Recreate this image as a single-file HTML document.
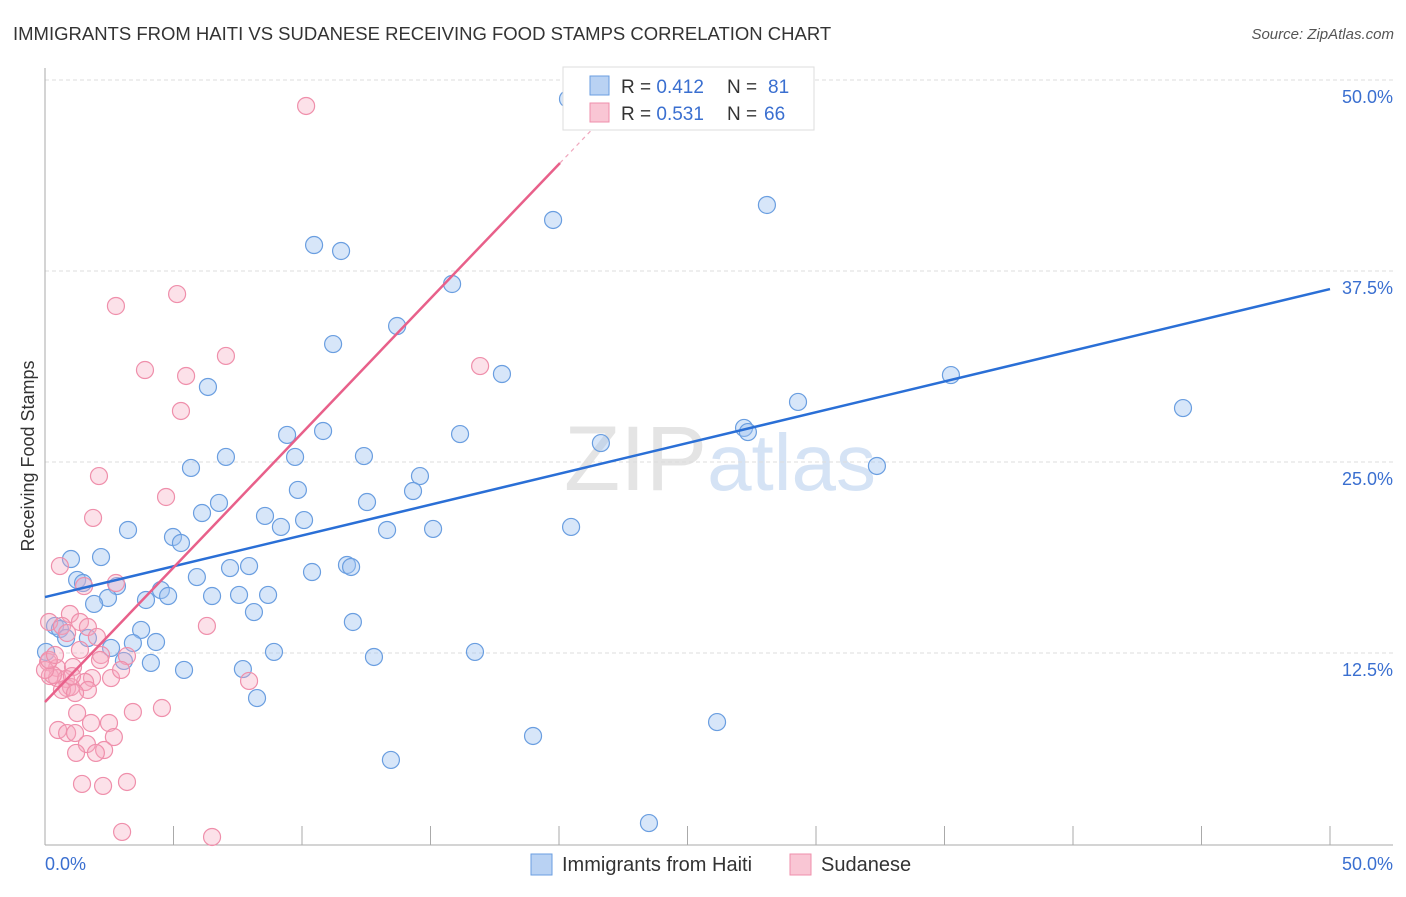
<!DOCTYPE html>
<html><head><meta charset="utf-8"><style>
body{margin:0;background:#fff;font-family:"Liberation Sans",sans-serif;}
svg text{font-family:"Liberation Sans",sans-serif;}
</style></head><body>
<svg id="c" width="1406" height="892" xmlns="http://www.w3.org/2000/svg">
<text x="13" y="40" font-size="18.5" fill="#333">IMMIGRANTS FROM HAITI VS SUDANESE RECEIVING FOOD STAMPS CORRELATION CHART</text>
<text x="1394" y="39" font-size="15" fill="#555" font-style="italic" text-anchor="end">Source: ZipAtlas.com</text>
<text x="720" y="490" font-size="92" fill="#e4e4e4" text-anchor="middle" font-family="Liberation Serif">ZIP<tspan fill="#d5e3f5" font-family="Liberation Sans" font-size="80">atlas</tspan></text>
<g id="grid"></g>
<g id="axes"></g>
<g id="pts"></g>
<g id="lines"></g>
<text transform="translate(34,456) rotate(-90)" font-size="18" fill="#333" text-anchor="middle">Receiving Food Stamps</text>
<text x="45" y="870" font-size="18" fill="#3a6fd0">0.0%</text>
<text x="1393" y="870" font-size="18" fill="#3a6fd0" text-anchor="end">50.0%</text>
<g>
<rect x="563" y="67" width="251" height="63" fill="#fff" stroke="#ddd"/>
<rect x="590" y="76" width="19" height="19" fill="#b9d2f3" stroke="#6a9ee0"/>
<rect x="590" y="103" width="19" height="19" fill="#f9c6d4" stroke="#ef8fab"/>
<text x="621" y="93" font-size="19" fill="#333">R = <tspan fill="#3a6fd0">0.412</tspan><tspan x="727">N = </tspan><tspan fill="#3a6fd0" x="768">81</tspan></text>
<text x="621" y="120" font-size="19" fill="#333">R = <tspan fill="#3a6fd0">0.531</tspan><tspan x="727">N = </tspan><tspan fill="#3a6fd0" x="764">66</tspan></text>
</g>
<g>
<rect x="531" y="854" width="21" height="21" fill="#b9d2f3" stroke="#6a9ee0"/>
<text x="562" y="871" font-size="20" fill="#333">Immigrants from Haiti</text>
<rect x="790" y="854" width="21" height="21" fill="#f9c6d4" stroke="#ef8fab"/>
<text x="821" y="871" font-size="20" fill="#333">Sudanese</text>
</g>
</svg>
<script>
const yTicks=[12.5,25,37.5,50];
const yTickLabels=["12.5%","25.0%","37.5%","50.0%"];
const xTicks=[0,5,10,15,20,25,30,35,40,45,50];
const haitiX=[20.35,28.09,19.77,10.47,11.52,15.84,13.70,11.21,6.34,17.78,35.25,44.28,29.30,27.20,27.35,10.82,9.42,16.15,21.63,7.04,9.73,12.41,5.68,32.37,14.59,9.84,14.32,6.77,12.53,6.11,8.56,10.08,20.47,9.18,3.23,13.31,15.10,1.01,2.18,4.98,5.29,11.75,11.91,7.20,7.94,10.39,5.91,1.25,1.48,2.80,4.51,2.45,6.50,7.55,8.68,3.93,4.79,1.91,8.13,11.98,0.39,0.58,3.74,1.67,0.82,3.42,4.32,2.57,8.91,16.73,0.04,3.07,12.80,4.12,5.41,7.70,8.25,26.15,18.99,13.46,23.50];
const haitiY=[48.76,41.82,40.84,39.20,38.81,36.65,33.90,32.72,29.91,30.76,30.69,28.53,28.93,27.23,26.96,27.03,26.77,26.83,26.24,25.33,25.33,25.39,24.61,24.74,24.08,23.17,23.10,22.32,22.38,21.66,21.47,21.20,20.75,20.75,20.55,20.55,20.62,18.65,18.78,20.09,19.70,18.26,18.13,18.06,18.19,17.80,17.47,17.28,17.08,16.88,16.62,16.10,16.23,16.30,16.30,15.97,16.23,15.71,15.18,14.53,14.27,14.07,14.01,13.48,13.48,13.15,13.22,12.83,12.57,12.57,12.57,11.98,12.24,11.85,11.39,11.45,9.55,7.98,7.07,5.50,1.37];
const sudX=[10.16,5.14,2.76,7.04,3.89,5.49,5.29,16.93,2.10,4.71,1.87,0.58,1.52,2.76,0.97,0.16,0.66,1.36,1.67,0.86,2.02,1.36,2.18,3.19,6.30,0.12,0.47,1.09,0.19,0.47,0.82,1.83,2.57,2.96,1.56,0.86,1.01,0.66,1.67,1.17,7.94,0.31,0.00,3.42,4.55,1.25,0.51,2.49,1.79,0.86,1.17,2.68,1.63,1.21,2.30,1.98,1.44,2.26,3.19,3.00,6.50,0.16,0.39,2.14,1.05];
const sudY=[48.30,35.99,35.21,31.94,31.02,30.63,28.34,31.28,24.08,22.71,21.34,18.19,16.88,17.08,15.05,14.53,14.27,14.53,14.20,13.81,13.55,12.70,12.37,12.30,14.27,11.91,11.52,11.58,10.99,10.86,10.80,10.86,10.86,11.39,10.60,10.21,10.27,10.08,10.08,9.88,10.67,11.06,11.39,8.64,8.90,8.57,7.46,7.92,7.92,7.26,7.26,7.00,6.54,5.96,6.15,5.96,3.93,3.80,4.06,0.79,0.46,12.04,12.37,12.04,10.99];
const haitiFit=[16.16,36.32];
const sudFit=[9.29,44.57,20.04];
const NS="http://www.w3.org/2000/svg";
const X=v=>45+v/50*1285, Y=v=>844-v/12.5*191;
function mk(t,a,p){const e=document.createElementNS(NS,t);for(const k in a)e.setAttribute(k,a[k]);document.getElementById(p).appendChild(e);return e;}
yTicks.forEach((v,i)=>{
 const l=mk('line',{x1:45,x2:1393,y1:Y(v),y2:Y(v),stroke:'#ddd','stroke-dasharray':'4,3'},'grid');
 
 
 const t=mk('text',{x:1393,y:Y(v)+23,'font-size':18,fill:'#3a6fd0','text-anchor':'end'},'grid');
 t.textContent=yTickLabels[i];
 
 
});
const ax=mk('line',{x1:45,x2:45,y1:68,y2:845,stroke:'#aaa'},'axes');


const bx=mk('line',{x1:45,x2:1393,y1:845,y2:845,stroke:'#aaa'},'axes');


xTicks.forEach(v=>{
 const t=mk('line',{x1:X(v),x2:X(v),y1:826,y2:845,stroke:'#aaa'},'axes');
 
 
});
haitiX.forEach((x,i)=>{
 const c=mk('circle',{cx:X(x),cy:Y(haitiY[i]),r:8.5,fill:'rgba(160,196,240,0.42)',stroke:'#6a9ee0','stroke-width':1.2},'pts');
 
 
});
sudX.forEach((x,i)=>{
 const c=mk('circle',{cx:X(x),cy:Y(sudY[i]),r:8.5,fill:'rgba(245,170,192,0.35)',stroke:'#ef8fab','stroke-width':1.2},'pts');
 
 
});
const hl=mk('line',{x1:X(0),y1:Y(haitiFit[0]),x2:X(50),y2:Y(haitiFit[1]),stroke:'#2a6fd6','stroke-width':2.5},'lines');


const slope=(sudFit[1]-sudFit[0])/sudFit[2];
const sl=mk('line',{x1:X(0),y1:Y(sudFit[0]),x2:X(sudFit[2]),y2:Y(sudFit[1]),stroke:'#e8608a','stroke-width':2.5},'lines');


const xe=sudFit[2]+1.8;
const sd=mk('line',{x1:X(sudFit[2]),y1:Y(sudFit[1]),x2:X(xe),y2:Y(sudFit[0]+slope*xe),stroke:'#f0a8be','stroke-width':1.2,'stroke-dasharray':'4,4'},'lines');


</script>
</body></html>
